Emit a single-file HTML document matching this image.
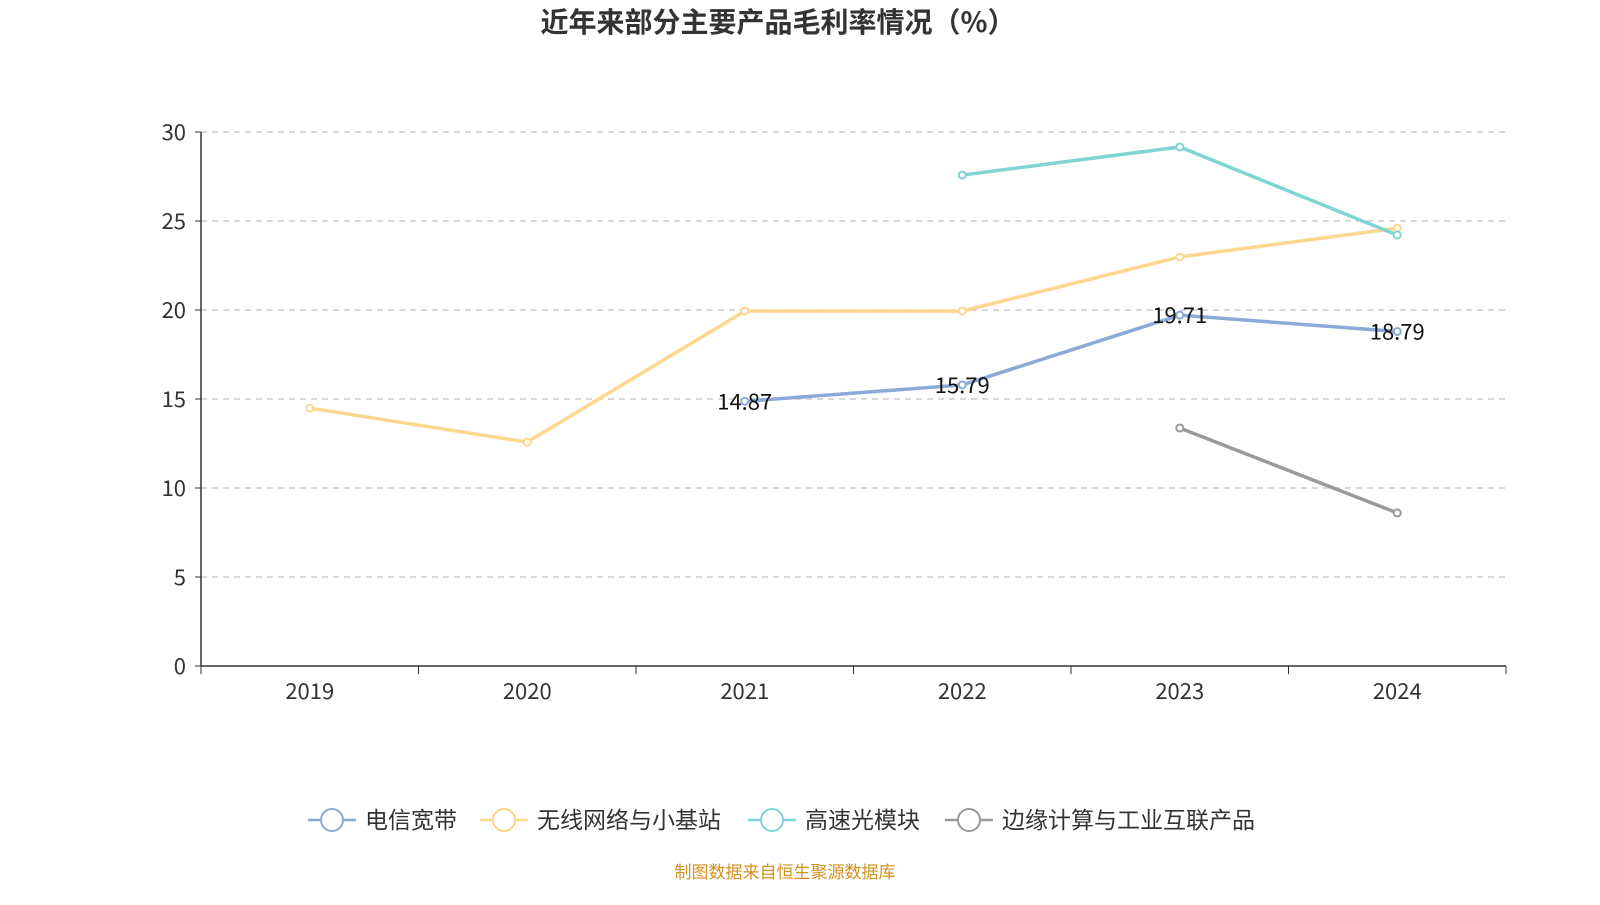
<!DOCTYPE html>
<html><head><meta charset="utf-8">
<style>
body{margin:0;background:#fff;width:1600px;height:900px;overflow:hidden;font-family:"Noto Sans CJK SC","Liberation Sans",sans-serif;}
svg text{font-family:"Noto Sans CJK SC","Liberation Sans",sans-serif;}
</style></head>
<body>
<svg id="chart" width="1600" height="900">
<text x="778" y="32" text-anchor="middle" font-size="28" font-weight="bold" fill="#333">近年来部分主要产品毛利率情况（%）</text>
<g id="grid"></g><g id="axes"></g><g id="series"></g><g id="legend"></g>
<text x="785" y="878" text-anchor="middle" font-size="17" fill="#d4901c">制图数据来自恒生聚源数据库</text>
</svg>
<script>
const categories=["2019","2020","2021","2022","2023","2024"];
const yTicks=[0,5,10,15,20,25,30];
const seriesNames=["电信宽带","无线网络与小基站","高速光模块","边缘计算与工业互联产品"];
const broadband=[null,null,14.87,15.79,19.71,18.79];
const wireless=[14.49,12.58,19.94,19.94,22.98,24.6];
const optical=[null,null,null,27.58,29.16,24.21];
const edge=[null,null,null,null,13.37,8.6];
const colors=["#8aaad8","#fdd78e","#7fd4d4","#9a9a9a"];
const NS="http://www.w3.org/2000/svg";
const L=201,R=1506,T=132,B=666;
const step=(R-L)/categories.length;
const xs=i=>L+step*(i+0.5);
const ys=v=>B-(v-0)/(30-0)*(B-T);
function mk(tag,attrs,parent){const e=document.createElementNS(NS,tag);for(const k in attrs)e.setAttribute(k,attrs[k]);parent.appendChild(e);return e;}
const grid=document.getElementById('grid'),axes=document.getElementById('axes'),ser=document.getElementById('series'),leg=document.getElementById('legend');
yTicks.forEach(t=>{
 if(t>0){const g=mk('line',{x1:L,x2:R,y1:ys(t),y2:ys(t),stroke:'#ccc','stroke-dasharray':'6,5','stroke-width':1.5},grid);
 
 }
 const tk=mk('line',{x1:L-6,x2:L,y1:ys(t),y2:ys(t),stroke:'#333'},axes);
 
 
 const tx=mk('text',{x:L-15,y:ys(t)+8,'text-anchor':'end','font-size':22,fill:'#333'},axes);tx.textContent=t;
 
 
});
const ya=mk('line',{x1:L,x2:L,y1:T,y2:B,stroke:'#333','stroke-width':1.5},axes);


const xa=mk('line',{x1:L,x2:R,y1:B,y2:B,stroke:'#333','stroke-width':1.5},axes);


for(let i=0;i<=categories.length;i++){const tk=mk('line',{x1:L+step*i,x2:L+step*i,y1:B,y2:B+8,stroke:'#333'},axes);
 
 }
categories.forEach((c,i)=>{const tx=mk('text',{x:xs(i),y:B+33,'text-anchor':'middle','font-size':22,fill:'#333'},axes);tx.textContent=c;
 
 });
const all=[broadband,wireless,optical,edge];
[1,2,3,0].forEach(si=>{
 const d=all[si];let p='';
 d.forEach((v,i)=>{if(v!=null)p+=(p?'L':'M')+xs(i)+','+ys(v);});
 const path=mk('path',{d:p,fill:'none',stroke:colors[si],'stroke-width':3.5},ser);
 
 
 d.forEach((v,i)=>{if(v==null)return;
  const c=mk('circle',{cx:xs(i),cy:ys(v),r:3.5,fill:'#fff',stroke:colors[si],'stroke-width':2},ser);
  
  
  if(si===0){const t=mk('text',{x:xs(i),y:ys(v)+8,'text-anchor':'middle','font-size':22,fill:'#111'},ser);t.textContent=v.toFixed(2);
   
   }
 });
});
const lx=[308,480,748,945];
seriesNames.forEach((n,i)=>{
 const g=mk('g',{},leg);
 
 
 mk('line',{x1:lx[i],x2:lx[i]+48,y1:820,y2:820,stroke:colors[i],'stroke-width':2.5},g);
 mk('circle',{cx:lx[i]+24,cy:820,r:11,fill:'#fff',stroke:colors[i],'stroke-width':2},g);
 const t=mk('text',{x:lx[i]+57,y:828,'font-size':23,fill:'#333'},g);t.textContent=n;
});
</script>
</body></html>
